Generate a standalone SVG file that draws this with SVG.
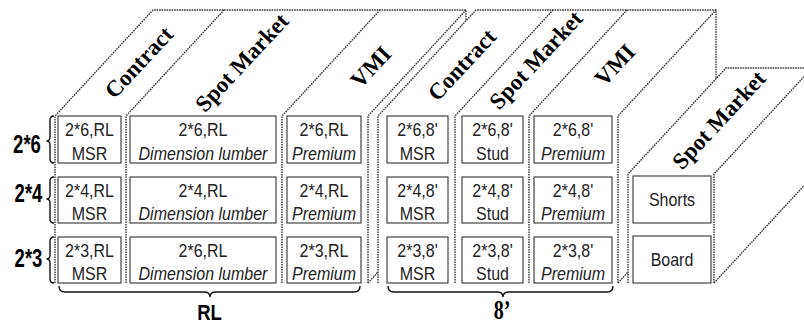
<svg xmlns="http://www.w3.org/2000/svg" width="804" height="325" viewBox="0 0 804 325">
<style>
.dot{fill:none;stroke:#333;stroke-width:1.4;stroke-dasharray:1.6 0.9}
.box{fill:#fff;stroke:#333;stroke-width:1.1}
.bt{font-family:"Liberation Sans",Arial,sans-serif;font-size:16px;fill:#222;text-anchor:middle}
.it{font-style:italic}
.hd{font-family:"Liberation Serif","Times New Roman",serif;font-size:23px;font-weight:bold;fill:#000;text-anchor:middle}
.lb{font-family:"Liberation Sans",Arial,sans-serif;font-size:18.5px;font-weight:bold;fill:#000;text-anchor:middle}
.br{fill:none;stroke:#111;stroke-width:1.4}
</style>
<rect width="804" height="325" fill="#fff"/>
<g id="connectors">
  <path class="dot" d="M55,283 V116 L153,10 H466 V21"/>
  <path class="dot" d="M126,283 V116 L224,10"/>
  <path class="dot" d="M282,283 V116 L380,10"/>
  <path class="dot" d="M368,283 V116 L466,10"/>
  <path class="dot" d="M368,283 L378,272"/>
  <path class="dot" d="M378,283 V116 L476,10 H716 V79"/>
  <path class="dot" d="M455,283 V116 L553,10"/>
  <path class="dot" d="M529,283 V116 L627,10"/>
  <path class="dot" d="M618,283 V116 L716,10"/>
  <path class="dot" d="M618,283 L628,272"/>
  <path class="dot" d="M628,283 V174 L726,68 H812"/>
  <path class="dot" d="M714,283 V174 L812,68"/>
  <path class="dot" d="M714,283 L812,177"/>
  <path class="br" d="M54,116 Q50,116 50,120 V137 Q50,141 46.5,141 Q50,141 50,145 V159 Q50,163 54,163"/>
  <path class="br" d="M54,177 Q50,177 50,181 V195 Q50,199 46.5,199 Q50,199 50,203 V219 Q50,223 54,223"/>
  <path class="br" d="M54,237 Q50,237 50,241 V255 Q50,259 46.5,259 Q50,259 50,263 V279 Q50,283 54,283"/>
  <path class="br" d="M59,286 Q59,292 65,292 H204 Q210,292 210,297 Q210,292 216,292 H354 Q360,292 360,286"/>
  <path class="br" d="M388,286 Q388,292 394,292 H497 Q503,292 503,297 Q503,292 509,292 H607 Q613,292 613,286"/>
</g>
<g id="headers">
  <text class="hd" transform="translate(139,62.5) rotate(-47)" y="7.5">Contract</text>
  <text class="hd" transform="translate(242,62.5) rotate(-47)" y="7.5">Spot Market</text>
  <text class="hd" transform="translate(371,67) rotate(-47)" y="7.5">VMI</text>
  <text class="hd" transform="translate(462,65) rotate(-47)" y="7.5">Contract</text>
  <text class="hd" transform="translate(536,60) rotate(-47)" y="7.5">Spot Market</text>
  <text class="hd" transform="translate(615,65) rotate(-47)" y="7.5">VMI</text>
  <text class="hd" transform="translate(719,120) rotate(-47)" y="7.5">Spot Market</text>
</g>
<g id="labels">
  <text class="lb" transform="translate(27,153) scale(1,1.4)">2*6</text>
  <text class="lb" transform="translate(28.5,202) scale(1,1.4)">2*4</text>
  <text class="lb" transform="translate(28.5,267) scale(1,1.4)">2*3</text>
  <text class="lb" transform="translate(209.5,320) scale(1,1.15)">RL</text>
  <text class="hd" style="font-size:20px" transform="translate(502,319) scale(1,1.35)">8’</text>
</g>
<g id="row1">
  <g id="n11"><rect class="box" x="58" y="116" width="63" height="47"/><text class="bt" transform="translate(89.5,136) scale(1,1.15)">2*6,RL</text><text class="bt" transform="translate(89.5,160) scale(1,1.15)">MSR</text></g>
  <g id="n12"><rect class="box" x="130" y="116" width="146" height="47"/><text class="bt" transform="translate(203,136) scale(1,1.15)">2*6,RL</text><text class="bt it" transform="translate(203,160) scale(1,1.15)">Dimension lumber</text></g>
  <g id="n13"><rect class="box" x="287" y="116" width="74" height="47"/><text class="bt" transform="translate(324,136) scale(1,1.15)">2*6,RL</text><text class="bt it" transform="translate(324,160) scale(1,1.15)">Premium</text></g>
  <g id="n14"><rect class="box" x="387" y="116" width="61" height="47"/><text class="bt" transform="translate(417.5,136) scale(1,1.15)">2*6,8'</text><text class="bt" transform="translate(417.5,160) scale(1,1.15)">MSR</text></g>
  <g id="n15"><rect class="box" x="462" y="116" width="61" height="47"/><text class="bt" transform="translate(492.5,136) scale(1,1.15)">2*6,8'</text><text class="bt" transform="translate(492.5,160) scale(1,1.15)">Stud</text></g>
  <g id="n16"><rect class="box" x="534" y="116" width="78" height="47"/><text class="bt" transform="translate(573,136) scale(1,1.15)">2*6,8'</text><text class="bt it" transform="translate(573,160) scale(1,1.15)">Premium</text></g>
</g>
<g id="row2">
  <g id="n21"><rect class="box" x="58" y="177" width="63" height="46"/><text class="bt" transform="translate(89.5,197) scale(1,1.15)">2*4,RL</text><text class="bt" transform="translate(89.5,220) scale(1,1.15)">MSR</text></g>
  <g id="n22"><rect class="box" x="130" y="177" width="146" height="46"/><text class="bt" transform="translate(203,197) scale(1,1.15)">2*4,RL</text><text class="bt it" transform="translate(203,220) scale(1,1.15)">Dimension lumber</text></g>
  <g id="n23"><rect class="box" x="287" y="177" width="74" height="46"/><text class="bt" transform="translate(324,197) scale(1,1.15)">2*4,RL</text><text class="bt it" transform="translate(324,220) scale(1,1.15)">Premium</text></g>
  <g id="n24"><rect class="box" x="387" y="177" width="61" height="46"/><text class="bt" transform="translate(417.5,197) scale(1,1.15)">2*4,8'</text><text class="bt" transform="translate(417.5,220) scale(1,1.15)">MSR</text></g>
  <g id="n25"><rect class="box" x="462" y="177" width="61" height="46"/><text class="bt" transform="translate(492.5,197) scale(1,1.15)">2*4,8'</text><text class="bt" transform="translate(492.5,220) scale(1,1.15)">Stud</text></g>
  <g id="n26"><rect class="box" x="534" y="177" width="78" height="46"/><text class="bt" transform="translate(573,197) scale(1,1.15)">2*4,8'</text><text class="bt it" transform="translate(573,220) scale(1,1.15)">Premium</text></g>
  <g id="n27"><rect class="box" x="633" y="176" width="78" height="47"/><text class="bt" transform="translate(672,205.5) scale(1,1.15)">Shorts</text></g>
</g>
<g id="row3">
  <g id="n31"><rect class="box" x="58" y="237" width="63" height="46"/><text class="bt" transform="translate(89.5,257) scale(1,1.15)">2*3,RL</text><text class="bt" transform="translate(89.5,280) scale(1,1.15)">MSR</text></g>
  <g id="n32"><rect class="box" x="130" y="237" width="146" height="46"/><text class="bt" transform="translate(203,257) scale(1,1.15)">2*6,RL</text><text class="bt it" transform="translate(203,280) scale(1,1.15)">Dimension lumber</text></g>
  <g id="n33"><rect class="box" x="287" y="237" width="74" height="46"/><text class="bt" transform="translate(324,257) scale(1,1.15)">2*3,RL</text><text class="bt it" transform="translate(324,280) scale(1,1.15)">Premium</text></g>
  <g id="n34"><rect class="box" x="387" y="237" width="61" height="46"/><text class="bt" transform="translate(417.5,257) scale(1,1.15)">2*3,8'</text><text class="bt" transform="translate(417.5,280) scale(1,1.15)">MSR</text></g>
  <g id="n35"><rect class="box" x="462" y="237" width="61" height="46"/><text class="bt" transform="translate(492.5,257) scale(1,1.15)">2*3,8'</text><text class="bt" transform="translate(492.5,280) scale(1,1.15)">Stud</text></g>
  <g id="n36"><rect class="box" x="534" y="237" width="78" height="46"/><text class="bt" transform="translate(573,257) scale(1,1.15)">2*3,8'</text><text class="bt it" transform="translate(573,280) scale(1,1.15)">Premium</text></g>
  <g id="n37"><rect class="box" x="633" y="236" width="78" height="47"/><text class="bt" transform="translate(672,265.5) scale(1,1.15)">Board</text></g>
</g>
</svg>
